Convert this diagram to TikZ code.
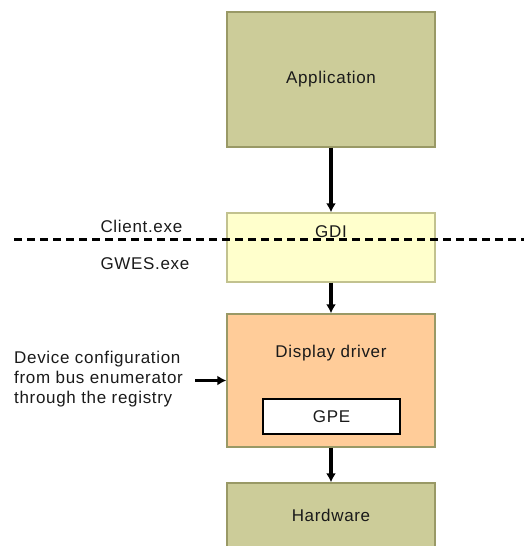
\documentclass[tikz,border=0pt]{standalone}
\usepackage{fontspec}
\setmainfont[LetterSpace=4]{Liberation Sans}
\usetikzlibrary{arrows.meta,positioning}
\definecolor{olivefill}{HTML}{CCCC99}
\definecolor{oliveline}{HTML}{999966}
\definecolor{gdifill}{HTML}{FFFFCC}
\definecolor{drvfill}{HTML}{FFCC99}
\definecolor{txtcol}{HTML}{1A1A1A}
\tikzset{
    layerbox/.style={draw=oliveline,line width=1.4pt,minimum width=208pt,inner sep=0pt},
    flowarrow/.style={black,line width=3.2pt,-{Latex[length=9pt,width=10pt]}},
    txt/.style={text=txtcol,font=\fontsize{17}{20}\selectfont}
}
\begin{document}
\begin{tikzpicture}[x=1pt,y=-1pt]
            \clip (0,0) rectangle (524,546);
            \useasboundingbox (0,0) rectangle (524,546);
            \node[layerbox,fill=olivefill,minimum height=135pt,txt]
                (app) at (331,79.5) {Application};
            \node[layerbox,fill=gdifill,draw=olivefill!80!oliveline,minimum height=69pt]
                (gdi) at (331,247.5) {};
            \node[txt] (gditxt) at (331,232) {GDI};
            \node[layerbox,fill=drvfill,minimum height=133pt]
                (drv) at (331,380.5) {};
            \node[txt] (drvtxt) at (331,353) {Display driver};
            \node[draw=black,line width=1.4pt,fill=white,minimum width=137pt,minimum height=35pt,txt]
                (gpe) at (331.5,416.5) {GPE};
            \node[layerbox,fill=olivefill,minimum height=100pt]
                (hw) at (331,533) {};
            \node[txt] (hwtxt) at (331,515) {Hardware};
            % process boundary
            \coordinate (cutl) at (14,239.5);
            \coordinate (cutr) at (524,239.5);
            \draw[black,line width=3pt,dash pattern=on 8pt off 5pt] (cutl) -- (cutr);
            \node[txt,anchor=west] (client) at (97,226) {Client.exe};
            \node[txt,anchor=west] (gwes) at (97,264) {GWES.exe};
            \node[txt,anchor=west,align=left,inner sep=0pt] (cfg) at (14,379)
                {Device configuration\\from bus enumerator\\through the registry};
            % arrows
            \draw[flowarrow] (app.south) -- (gdi.north);
            \draw[flowarrow] (gdi.south) -- (drv.north);
            \draw[flowarrow] (drv.south) -- (hw.north);
            \draw[flowarrow] ([xshift=12pt]cfg.east |- drv.west) -- (drv.west);
        \end{tikzpicture}
\end{document}
